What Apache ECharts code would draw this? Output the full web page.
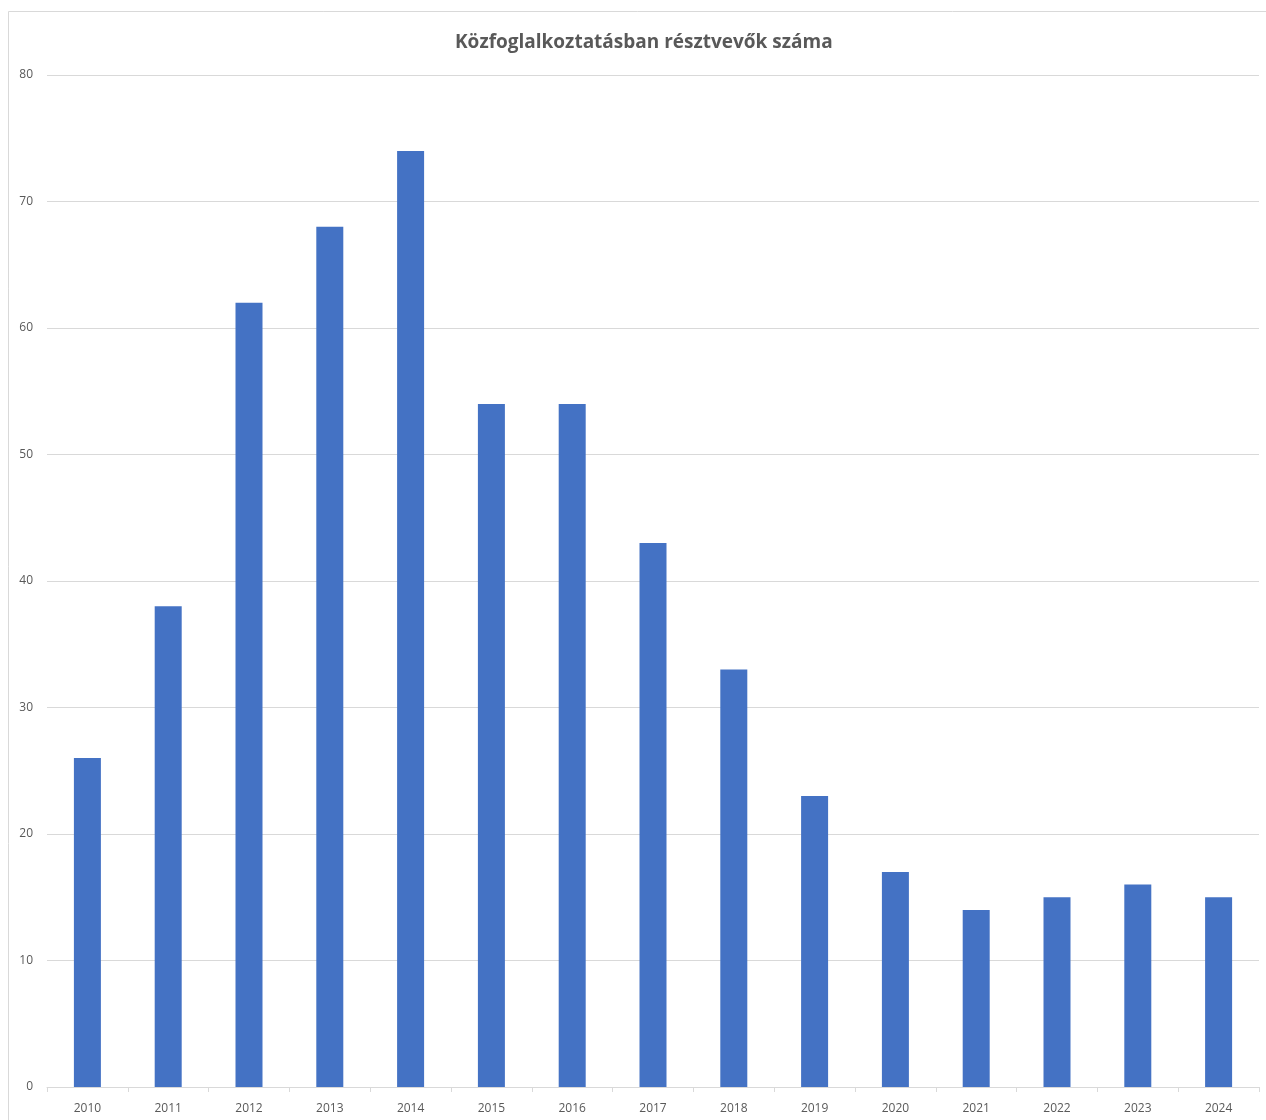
<!DOCTYPE html>
<html>
<head>
<meta charset="utf-8">
<script src="https://cdn.jsdelivr.net/npm/echarts@6/dist/echarts.min.js"></script>
<style>
html,body{margin:0;padding:0;background:#fff;}
#chart{width:1266px;height:1120px;}
</style>
</head>
<body>
<div id="chart"></div>
<script>
const titleText = 'Közfoglalkoztatásban résztvevők száma';
const years = ['2010','2011','2012','2013','2014','2015','2016','2017','2018','2019','2020','2021','2022','2023','2024'];
const participants = [26, 38, 62, 68, 74, 54, 54, 43, 33, 23, 17, 14, 15, 16, 15];
const yMin = 0, yMax = 80, yStep = 10;

const chart = echarts.init(document.getElementById('chart'), null, {renderer:'canvas'});
const font = '"Open Sans", "Noto Sans", sans-serif';
chart.setOption({
  backgroundColor: '#ffffff',
  animation: false,
  graphic: [{
    type: 'rect',
    shape: {x: 8.5, y: 11.5, width: 1300, height: 1200},
    style: {fill: 'none', stroke: '#d9d9d9', lineWidth: 1},
    silent: true, z: -1
  }],
  title: {
    text: titleText,
    left: 450,
    top: 28,
    textStyle: {color: '#595959', fontSize: 19, fontWeight: 'bold', fontFamily: font}
  },
  grid: {left: 47, right: 7, top: 75, bottom: 33, containLabel: false},
  xAxis: {
    type: 'category',
    data: years,
    axisLine: {lineStyle: {color: '#d9d9d9', width: 1}},
    axisTick: {show: true, alignWithLabel: false, length: 5, lineStyle: {color: '#d9d9d9'}},
    axisLabel: {color: '#595959', fontSize: 12, fontFamily: font, margin: 16}
  },
  yAxis: {
    type: 'value',
    min: yMin, max: yMax, interval: yStep,
    axisLine: {show: false},
    axisTick: {show: false},
    splitLine: {lineStyle: {color: '#d9d9d9', width: 1}},
    axisLabel: {color: '#595959', fontSize: 12, fontFamily: font, margin: 14}
  },
  series: [{
    type: 'bar',
    data: participants,
    barWidth: 27,
    itemStyle: {color: '#4472c4'}
  }]
});
</script>
</body>
</html>
